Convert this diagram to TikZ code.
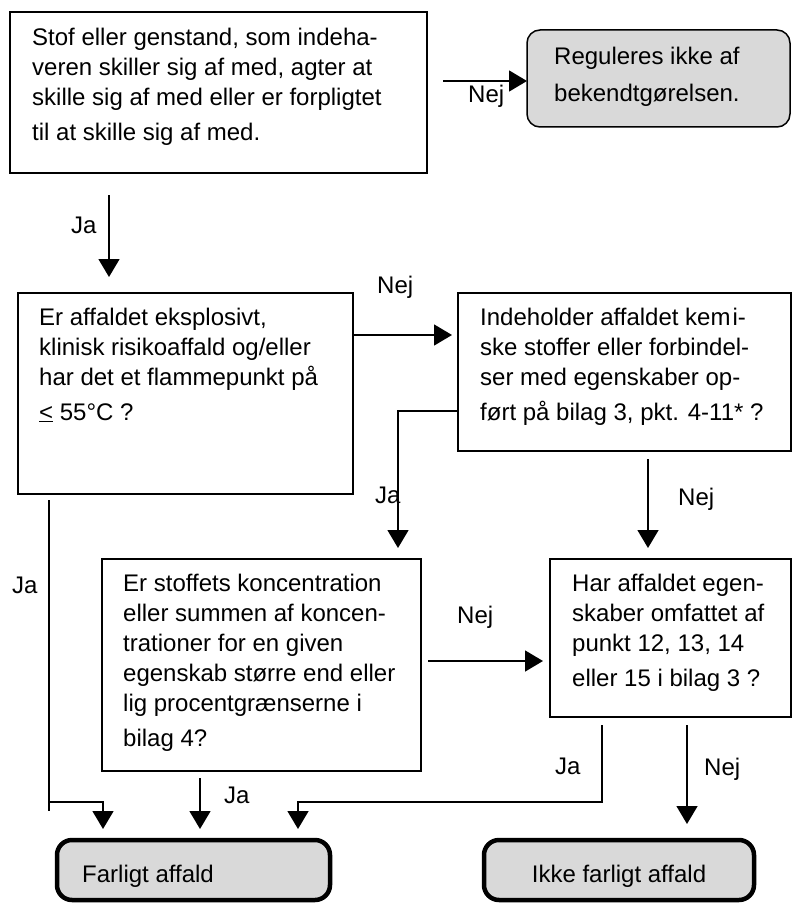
\documentclass[tikz,border=0pt]{standalone}
\usepackage{fontspec}
\setmainfont{Liberation Sans}
\usetikzlibrary{arrows.meta, calc}

\begin{document}
\begin{tikzpicture}[x=1pt,y=-1pt,
  box/.style={draw=black,line width=1.4pt,inner sep=0pt,outer sep=0pt,anchor=north west},
  endbox/.style={draw=black,line width=4.5pt,fill=black!15,rounded corners=15pt,inner sep=0pt,outer sep=0pt,anchor=north west},
  txt/.style={inner sep=0pt,align=left,anchor=north west,font=\fontsize{24}{30}\selectfont},
  lbl/.style={inner sep=0pt,anchor=base west,font=\fontsize{24}{30}\selectfont},
  line/.style={line width=1.5pt},
  arr/.style={line width=1.5pt,-{Triangle[length=18pt,width=21pt]}}]
\useasboundingbox (0,0) rectangle (792,904);

% boxes
\node[box,minimum width=417pt,minimum height=161pt] (start) at (10,12) {};
\node[box,fill=black!15,rounded corners=13pt,line width=1.5pt,minimum width=263pt,minimum height=97pt] (reg) at (527,30) {};
\node[box,minimum width=335pt,minimum height=201pt] (crit) at (18,293) {};
\node[box,minimum width=333pt,minimum height=158pt] (kem) at (458,293) {};
\node[box,minimum width=319pt,minimum height=212pt] (konc) at (102,559) {};
\node[box,minimum width=241pt,minimum height=158pt] (har) at (550,559) {};
\node[endbox,minimum width=273pt,minimum height=60pt] (farl) at (57,840) {};
\node[endbox,minimum width=270pt,minimum height=60pt] (ikke) at (484,840) {};

% texts
\node[txt] (starttxt) at ($(start.north west)+(22,15.5)$) {Stof eller genstand, som indeha-\\veren skiller sig af med, agter at\\skille sig af med eller er forpligtet\\[5pt]til at skille sig af med.};
\node[txt] (regtxt) at ($(reg.north west)+(27,16.5)$) {Reguleres ikke af\\[7pt]bekendtgørelsen.};
\node[txt] (crittxt) at ($(crit.north west)+(21,14.5)$) {Er affaldet eksplosivt,\\klinisk risikoaffald og/eller\\har det et flammepunkt på\\[5pt]\underline{<} 55°C ?};
\node[txt] (kemtxt) at ($(kem.north west)+(22,14.5)$) {Indeholder affaldet kem\hspace{2pt}i-\\ske stoffer eller forbindel-\\ser med egenskaber op-\\[5pt]ført på bilag 3, pkt. 4-11* ?};
\node[txt] (konctxt) at ($(konc.north west)+(21,14.5)$) {Er stoffets koncentration\\eller summen af koncen-\\trationer for en given\\egenskab større end eller\\lig procentgrænserne i\\[5pt]bilag 4?};
\node[txt] (hartxt) at ($(har.north west)+(22,14.5)$) {Har affaldet egen-\\skaber omfattet af\\punkt 12, 13, 14\\[5pt]eller 15 i bilag 3 ?};
\node[lbl] (farltxt) at ($(farl.north west)+(25,42)$) {Farligt affald};
\node[lbl,anchor=base] (ikketxt) at ($(ikke.north)+(0,42)$) {Ikke farligt affald};

% answers
\foreach \x/\y/\t [count=\i] in {468/103/Nej, 71/233/Ja, 377/293/Nej, 375/503/Ja, 678/505/Nej,
    12/593/Ja, 457/623/Nej, 224/803/Ja, 555/774/Ja, 704/775/Nej}
  \node[lbl] (ans\i) at (\x,\y) {\t};

% connectors
\coordinate (n1) at (443,81);
\coordinate (j1) at (109,195);
\coordinate (n2) at (353,335);
\coordinate (j2) at (458,411);
\coordinate (j2end) at (398,548);
\coordinate (n3) at (648,459);
\coordinate (n4) at (428,661);
\coordinate (jl) at (49,500);
\coordinate (jlend) at (49,811);
\coordinate (jbend) at (49,802);
\coordinate (j3) at (200,778);
\coordinate (j4) at (602,725);
\coordinate (n5) at (687,725);
\coordinate (fa1) at (103,829);
\coordinate (fa2) at (200,829);
\coordinate (fa3) at (298,829);

\draw[arr] (n1) -- (n1 -| reg.west);
\draw[arr,shorten >=16pt] (j1) -- (j1 |- crit.north);
\draw[arr,shorten >=6pt] (n2) -- (n2 -| kem.west);
\draw[arr] (j2) -| (j2end);
\draw[arr,shorten >=11pt] (n3) -- (n3 |- har.north);
\draw[arr,shorten >=7pt] (n4) -- (n4 -| har.west);
\draw[line] (jl) -- (jlend);
\draw[arr] (jbend) -| (fa1);
\draw[arr] (j3) -- (fa2);
\draw[arr] (j4) -- (j4 |- jbend) -| (fa3);
\draw[arr,shorten >=16pt] (n5) -- (n5 |- ikke.north);
\end{tikzpicture}
\end{document}
